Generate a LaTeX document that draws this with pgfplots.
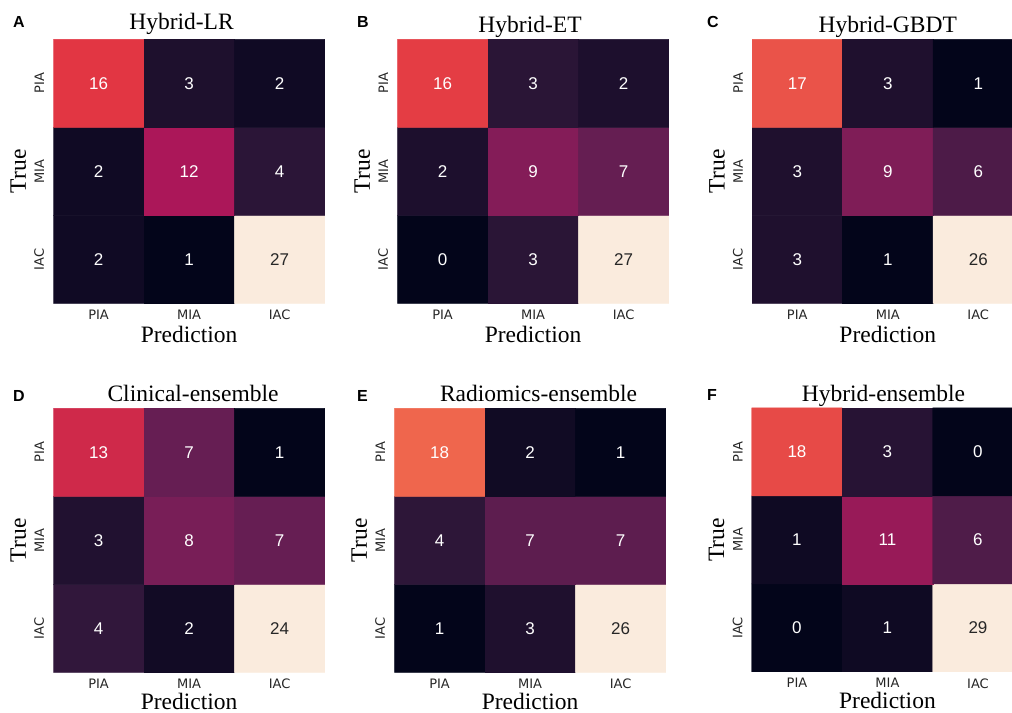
\documentclass[border=0pt]{standalone}
\usepackage{fontspec}
\setmainfont{Liberation Serif}
\newfontfamily\dejavu{DejaVu Sans}
\newfontfamily\arial{Liberation Sans}
\usepackage{pgfplots}
\pgfplotsset{compat=1.18}
\usepackage{pgfplotstable}

\definecolor{annblack}{RGB}{38,38,38}
\newcommand\annot{\ifdim\pgfplotspointmeta pt>20pt\color{annblack}\else\color{white}\fi\pgfplotspointmeta}
\pgfplotsset{
  colormap={rocket}{rgb255=(3,5,26) rgb255=(53,25,62) rgb255=(112,31,87) rgb255=(173,23,89) rgb255=(225,51,66) rgb255=(243,118,81) rgb255=(246,180,143) rgb255=(250,235,221)},
  every axis title/.style={at={(axis description cs:0.5,1)}, anchor=base, inner sep=0pt, font=\fontsize{23.5bp}{27bp}\selectfont},
  every axis x label/.style={at={(axis description cs:0.5,0)}, anchor=base, inner sep=0pt, yshift=-38.8bp, font=\fontsize{23.5bp}{27bp}\selectfont},
  every axis y label/.style={at={([xshift=-27.5bp]axis description cs:0,0.5)}, rotate=90, anchor=base, inner sep=0pt, font=\fontsize{23.5bp}{27bp}\selectfont},
  cm/.style={
    scale only axis, width=271.5bp, height=264bp,
    anchor=north west,
    xmin=-0.5, xmax=2.5, ymin=-0.5, ymax=2.5,
    axis line style={draw=none}, major tick length=0pt, tick style={draw=none},
    xtick={0,1,2}, ytick={0,1,2},
    xticklabels={PIA,MIA,IAC}, yticklabels={IAC,MIA,PIA},
    tick label style={font=\dejavu\fontsize{13bp}{15bp}\selectfont, inner sep=0pt, text=annblack},
    xticklabel style={anchor=north, yshift=-6.5bp},
    yticklabel style={anchor=east, xshift=-9bp, rotate=90, anchor=south},
    colormap name=rocket,
    xlabel={Prediction}, ylabel={True},
  },
  bottomrow/.style={xlabel style={yshift=2bp}},
  cells/.style={matrix plot*, mesh/cols=3, point meta=explicit},
  anns/.style={only marks, mark=*, mark size=0pt, mark options={draw=none, fill=none},
    point meta=explicit symbolic,
    nodes near coords={\annot},
    nodes near coords style={anchor=center, inner sep=0pt, font=\arial\fontsize{17bp}{20bp}\selectfont}},
}

\pgfplotstableread{
x y c
0 0 2
1 0 1
2 0 27
0 1 2
1 1 12
2 1 4
0 2 16
1 2 3
2 2 2
}\tabA
\pgfplotstableread{
x y c
0 0 0
1 0 3
2 0 27
0 1 2
1 1 9
2 1 7
0 2 16
1 2 3
2 2 2
}\tabB
\pgfplotstableread{
x y c
0 0 3
1 0 1
2 0 26
0 1 3
1 1 9
2 1 6
0 2 17
1 2 3
2 2 1
}\tabC
\pgfplotstableread{
x y c
0 0 4
1 0 2
2 0 24
0 1 3
1 1 8
2 1 7
0 2 13
1 2 7
2 2 1
}\tabD
\pgfplotstableread{
x y c
0 0 1
1 0 3
2 0 26
0 1 4
1 1 7
2 1 7
0 2 18
1 2 2
2 2 1
}\tabE
\pgfplotstableread{
x y c
0 0 0
1 0 1
2 0 29
0 1 1
1 1 11
2 1 6
0 2 18
1 2 3
2 2 0
}\tabF

\begin{document}
\begin{tikzpicture}
\path[use as bounding box] (0,0) rectangle (1012bp,-713bp);

\begin{axis}[cm, at={(53.3bp,-39.3bp)}, point meta min=1, point meta max=27,
  title={Hybrid-LR}, title style={yshift=10bp, xshift=-7.5bp}]
\addplot[cells] table[x=x,y=y,meta=c] {\tabA};
\addplot[anns] table[x=x,y=y,meta=c] {\tabA};
\end{axis}

\begin{axis}[cm, at={(397.3bp,-39.3bp)}, point meta min=0, point meta max=27,
  title={Hybrid-ET}, title style={yshift=7bp, xshift=-3bp}]
\addplot[cells] table[x=x,y=y,meta=c] {\tabB};
\addplot[anns] table[x=x,y=y,meta=c] {\tabB};
\end{axis}

\begin{axis}[cm, at={(752bp,-39.3bp)}, point meta min=1, point meta max=26,
  title={Hybrid-GBDT}, title style={yshift=7bp}]
\addplot[cells] table[x=x,y=y,meta=c] {\tabC};
\addplot[anns] table[x=x,y=y,meta=c] {\tabC};
\end{axis}

\begin{axis}[cm, bottomrow, at={(53.3bp,-408.3bp)}, point meta min=1, point meta max=24,
  title={Clinical-ensemble}, title style={yshift=6.6bp, xshift=4bp}]
\addplot[cells] table[x=x,y=y,meta=c] {\tabD};
\addplot[anns] table[x=x,y=y,meta=c] {\tabD};
\end{axis}

\begin{axis}[cm, bottomrow, at={(394.3bp,-408.3bp)}, point meta min=1, point meta max=26,
  title={Radiomics-ensemble}, title style={yshift=6.6bp, xshift=8.5bp}]
\addplot[cells] table[x=x,y=y,meta=c] {\tabE};
\addplot[anns] table[x=x,y=y,meta=c] {\tabE};
\end{axis}

\begin{axis}[cm, bottomrow, at={(751.7bp,-407.8bp)}, point meta min=0, point meta max=29,
  title={Hybrid-ensemble}, title style={yshift=6.6bp, xshift=-4bp}]
\addplot[cells] table[x=x,y=y,meta=c] {\tabF};
\addplot[anns] table[x=x,y=y,meta=c] {\tabF};
\end{axis}

\begin{scope}[every node/.style={font=\arial\bfseries\fontsize{16bp}{18bp}\selectfont, inner sep=0pt}]
\node at (19bp,-21.7bp) {A};
\node at (363bp,-22bp) {B};
\node at (713bp,-22bp) {C};
\node at (19bp,-395.8bp) {D};
\node at (362.5bp,-395.8bp) {E};
\node at (712bp,-395.3bp) {F};
\end{scope}
\end{tikzpicture}
\end{document}
